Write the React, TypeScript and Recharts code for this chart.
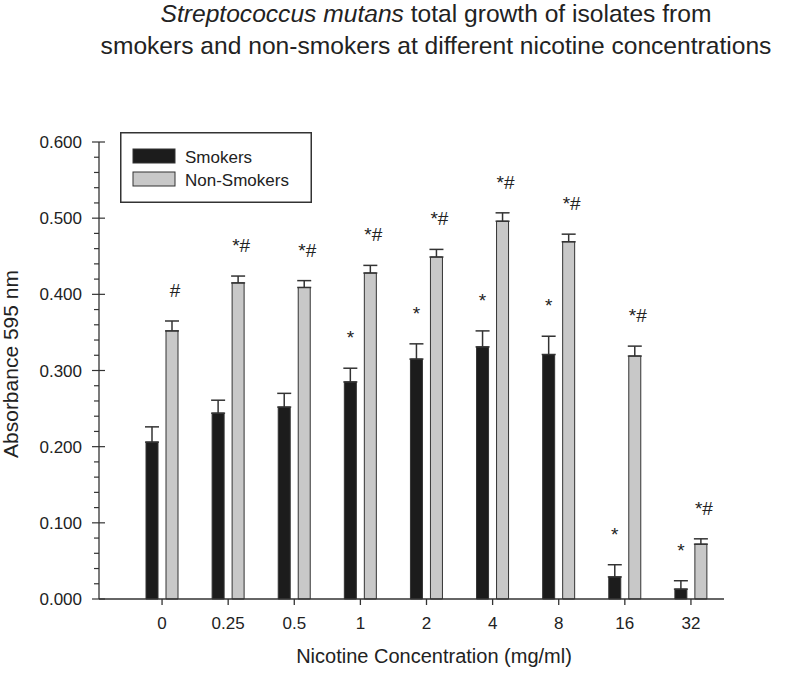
import React from "react";
import { Bar, BarChart, ErrorBar, LabelList, Legend, XAxis, YAxis } from "recharts";

const FONT = '"Liberation Sans", Arial, Helvetica, sans-serif';
const INK = "#222";

// nicotine concentration (mg/ml)
const concentrations = ["0", "0.25", "0.5", "1", "2", "4", "8", "16", "32"];
const smokers = [0.206, 0.244, 0.252, 0.285, 0.315, 0.331, 0.321, 0.029, 0.013];
const smokersErr = [0.02, 0.017, 0.018, 0.018, 0.02, 0.021, 0.024, 0.016, 0.011];
const nonSmokers = [0.352, 0.415, 0.409, 0.428, 0.449, 0.496, 0.469, 0.319, 0.072];
const nonSmokersErr = [0.013, 0.009, 0.009, 0.01, 0.01, 0.011, 0.01, 0.013, 0.007];
const smokersMarks = ["", "", "", "*", "*", "*", "*", "*", "*"];
const nonSmokersMarks = ["#", "*#", "*#", "*#", "*#", "*#", "*#", "*#", "*#"];

const majorTicks = [0, 0.1, 0.2, 0.3, 0.4, 0.5, 0.6];
const yTicks = [
  0, 0.02, 0.04, 0.06, 0.08, 0.1, 0.12, 0.14, 0.16, 0.18, 0.2, 0.22, 0.24, 0.26, 0.28, 0.3,
  0.32, 0.34, 0.36, 0.38, 0.4, 0.42, 0.44, 0.46, 0.48, 0.5, 0.52, 0.54, 0.56, 0.58, 0.6,
];

const data = concentrations.map((c, i) => ({
  conc: c,
  smokers: smokers[i],
  smokersErr: [0, smokersErr[i]],
  nonSmokers: nonSmokers[i],
  nonSmokersErr: [0, nonSmokersErr[i]],
}));

const YTick = (props: any) => {
  const { x, y, payload } = props;
  const v = payload.value as number;
  const major = majorTicks.some((m) => Math.abs(m - v) < 1e-9);
  return (
    <g>
      <line x1={x - (major ? 7 : 5)} x2={x + (major ? 6 : 0)} y1={y} y2={y} stroke="#333" strokeWidth={1.2} />
      {major && (
        <text x={x - 17} y={y + 6} textAnchor="end" fontSize={17} fontFamily={FONT} fill={INK}>
          {v.toFixed(3)}
        </text>
      )}
    </g>
  );
};

// significance marks sit above the error cap
const sigLabel = (marks: string[], errs: number[], shift: number) => (props: any) => {
  const { x, y, width, height, value, index } = props;
  const mark = marks[index];
  if (!mark || !value) return null;
  const capY = y - (errs[index] * height) / value;
  return (
    <text x={x + width / 2 + shift} y={capY - 24} textAnchor="middle" fontSize={19} fontFamily={FONT} fill={INK}>
      {mark}
    </text>
  );
};

const LegendBox = () => (
  <svg width={192} height={71} style={{ display: "block" }}>
    <rect x={0.75} y={0.75} width={190.5} height={69.5} fill="#fff" stroke="#333" strokeWidth={1.5} />
    <rect x={13} y={17} width={42} height={14} fill="#1c1c1c" stroke="#333" />
    <rect x={13} y={40} width={42} height={14} fill="#c8c8c8" stroke="#333" />
    <text x={65} y={31} fontSize={17} fontFamily={FONT} fill={INK}>Smokers</text>
    <text x={65} y={54} fontSize={17} fontFamily={FONT} fill={INK}>Non-Smokers</text>
  </svg>
);

export default function App() {
  return (
    <div style={{ position: "absolute", left: 0, top: 0, width: 800, height: 678, background: "#fff" }}>
      <BarChart
        width={800}
        height={678}
        data={data}
        margin={{ top: 142, right: 76, bottom: 19, left: 19 }}
        barGap={8}
      >
        <XAxis
          dataKey="conc"
          padding={{ left: 30, right: 0 }}
          height={60}
          stroke="#333"
          strokeWidth={1.3}
          tickSize={6}
          tickMargin={12}
          tick={{ fill: INK, fontSize: 17, fontFamily: FONT }}
        />
        <YAxis
          width={80}
          domain={[0, 0.6]}
          ticks={yTicks}
          interval={0}
          stroke="#333"
          strokeWidth={1.3}
          tickLine={false}
          tickSize={0}
          tickMargin={0}
          tick={<YTick />}
        />
        <Legend
          layout="horizontal"
          verticalAlign="middle"
          content={() => <LegendBox />}
          wrapperStyle={{ left: 120, top: 132, width: 192, height: 71 }}
        />
        <Bar dataKey="smokers" name="Smokers" fill="#1c1c1c" stroke="#333" strokeWidth={1} barSize={12} isAnimationActive={false}>
          <ErrorBar dataKey="smokersErr" direction="y" width={7} stroke="#333" strokeWidth={1.5} />
          <LabelList dataKey="smokers" content={sigLabel(smokersMarks, smokersErr, 0)} />
        </Bar>
        <Bar dataKey="nonSmokers" name="Non-Smokers" fill="#c8c8c8" stroke="#333" strokeWidth={1} barSize={12} isAnimationActive={false}>
          <ErrorBar dataKey="nonSmokersErr" direction="y" width={7} stroke="#333" strokeWidth={1.5} />
          <LabelList dataKey="nonSmokers" content={sigLabel(nonSmokersMarks, nonSmokersErr, 3)} />
        </Bar>
      </BarChart>
      <svg width={800} height={678} style={{ position: "absolute", left: 0, top: 0, pointerEvents: "none" }}>
        <text x={436} y={22} textAnchor="middle" fontSize={24.6} fontFamily={FONT} fill={INK}>
          <tspan fontStyle="italic">Streptococcus mutans</tspan> total growth of isolates from
        </text>
        <text x={436} y={54} textAnchor="middle" fontSize={24.6} fontFamily={FONT} fill={INK}>
          smokers and non-smokers at different nicotine concentrations
        </text>
        <text x={18} y={364} transform="rotate(-90 18 364)" textAnchor="middle" fontSize={21} fontFamily={FONT} fill={INK}>
          Absorbance 595 nm
        </text>
        <text x={434} y={663} textAnchor="middle" fontSize={20} fontFamily={FONT} fill={INK}>
          Nicotine Concentration (mg/ml)
        </text>
      </svg>
    </div>
  );
}
